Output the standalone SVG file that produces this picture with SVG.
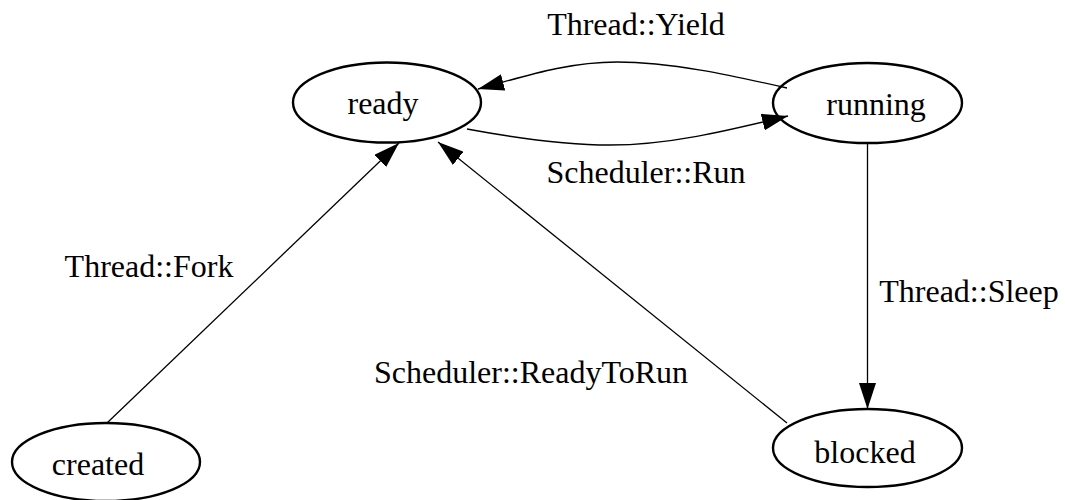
<svg xmlns="http://www.w3.org/2000/svg" width="1065" height="500" viewBox="0 0 1065 500">
<style>
.node ellipse{fill:none;stroke:#000;stroke-width:2.4}
text{font-family:"Liberation Serif","Times New Roman",serif;font-size:32px;fill:#000;text-anchor:middle}
.edge{fill:none;stroke:#000;stroke-width:1.3;marker-end:url(#arrow)}
</style>
<defs>
<marker id="arrow" viewBox="0 0 26 17" refX="26" refY="8.5" markerUnits="userSpaceOnUse" markerWidth="26" markerHeight="17" orient="auto">
<path d="M0,0 L26,8.5 L0,17 z" fill="#000"/>
</marker>
</defs>
<rect width="1065" height="500" fill="#fff"/>
<g id="connectors">
<path class="edge" d="M787,88 C730,75 670,62 617,62 C565,62 520,78 478,89"/>
<path class="edge" d="M467,129 C510,137 560,145 610,145 C670,145 730,130 788,116"/>
<path class="edge" d="M107,423 L399,143"/>
<path class="edge" d="M787,423 L438,142"/>
<path class="edge" d="M867.5,143 L867.5,409"/>
<text x="636" y="35">Thread::Yield</text>
<text x="646" y="183">Scheduler::Run</text>
<text x="149" y="277">Thread::Fork</text>
<text x="969" y="302">Thread::Sleep</text>
<text x="531" y="383">Scheduler::ReadyToRun</text>
</g>
<g id="ready" class="node"><ellipse cx="387" cy="102.5" rx="94" ry="40"/><text x="383" y="114">ready</text></g>
<g id="running" class="node"><ellipse cx="867.5" cy="103" rx="94.5" ry="40"/><text x="876" y="115">running</text></g>
<g id="created" class="node"><ellipse cx="106" cy="462" rx="94" ry="39"/><text x="98" y="475">created</text></g>
<g id="blocked" class="node"><ellipse cx="867.5" cy="448" rx="94.5" ry="39"/><text x="865" y="463">blocked</text></g>
</svg>
